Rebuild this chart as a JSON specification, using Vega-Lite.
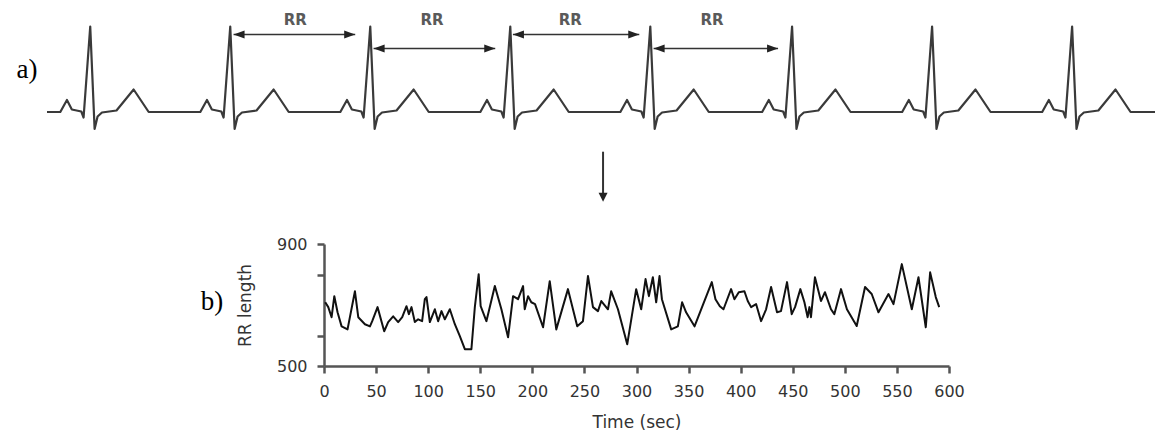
{
  "$schema": "https://vega.github.io/schema/vega-lite/v6.json",
  "padding": 0,
  "background": "white",
  "config": {"view": {"stroke": null}, "concat": {"spacing": 0}},
  "datasets": {
    "ecg": [
      {"t": -247, "v": 0}, {"t": -171, "v": 0}, {"t": -133, "v": 0.24}, {"t": -105, "v": 0.05}, {"t": -51, "v": 0.01}, {"t": -38, "v": -0.11}, {"t": 0, "v": 1.71}, {"t": 25, "v": -0.34}, {"t": 42, "v": -0.09}, {"t": 67, "v": -0.01}, {"t": 150, "v": 0.03}, {"t": 248, "v": 0.45}, {"t": 334, "v": 0},
      {"t": 629, "v": 0}, {"t": 667, "v": 0.24}, {"t": 695, "v": 0.05}, {"t": 749, "v": 0.01}, {"t": 762, "v": -0.11}, {"t": 800, "v": 1.71}, {"t": 825, "v": -0.34}, {"t": 842, "v": -0.09}, {"t": 867, "v": -0.01}, {"t": 950, "v": 0.03}, {"t": 1048, "v": 0.45}, {"t": 1134, "v": 0},
      {"t": 1429, "v": 0}, {"t": 1467, "v": 0.24}, {"t": 1495, "v": 0.05}, {"t": 1549, "v": 0.01}, {"t": 1562, "v": -0.11}, {"t": 1600, "v": 1.71}, {"t": 1625, "v": -0.34}, {"t": 1642, "v": -0.09}, {"t": 1667, "v": -0.01}, {"t": 1750, "v": 0.03}, {"t": 1848, "v": 0.45}, {"t": 1934, "v": 0},
      {"t": 2229, "v": 0}, {"t": 2267, "v": 0.24}, {"t": 2295, "v": 0.05}, {"t": 2349, "v": 0.01}, {"t": 2362, "v": -0.11}, {"t": 2400, "v": 1.71}, {"t": 2425, "v": -0.34}, {"t": 2442, "v": -0.09}, {"t": 2467, "v": -0.01}, {"t": 2550, "v": 0.03}, {"t": 2648, "v": 0.45}, {"t": 2734, "v": 0},
      {"t": 3029, "v": 0}, {"t": 3067, "v": 0.24}, {"t": 3095, "v": 0.05}, {"t": 3149, "v": 0.01}, {"t": 3162, "v": -0.11}, {"t": 3200, "v": 1.71}, {"t": 3225, "v": -0.34}, {"t": 3242, "v": -0.09}, {"t": 3267, "v": -0.01}, {"t": 3350, "v": 0.03}, {"t": 3448, "v": 0.45}, {"t": 3534, "v": 0},
      {"t": 3839, "v": 0}, {"t": 3877, "v": 0.24}, {"t": 3905, "v": 0.05}, {"t": 3959, "v": 0.01}, {"t": 3972, "v": -0.11}, {"t": 4010, "v": 1.71}, {"t": 4035, "v": -0.34}, {"t": 4052, "v": -0.09}, {"t": 4077, "v": -0.01}, {"t": 4160, "v": 0.03}, {"t": 4258, "v": 0.45}, {"t": 4344, "v": 0},
      {"t": 4639, "v": 0}, {"t": 4677, "v": 0.24}, {"t": 4705, "v": 0.05}, {"t": 4759, "v": 0.01}, {"t": 4772, "v": -0.11}, {"t": 4810, "v": 1.71}, {"t": 4835, "v": -0.34}, {"t": 4852, "v": -0.09}, {"t": 4877, "v": -0.01}, {"t": 4960, "v": 0.03}, {"t": 5058, "v": 0.45}, {"t": 5144, "v": 0},
      {"t": 5439, "v": 0}, {"t": 5477, "v": 0.24}, {"t": 5505, "v": 0.05}, {"t": 5559, "v": 0.01}, {"t": 5572, "v": -0.11}, {"t": 5610, "v": 1.71}, {"t": 5635, "v": -0.34}, {"t": 5652, "v": -0.09}, {"t": 5677, "v": -0.01}, {"t": 5760, "v": 0.03}, {"t": 5858, "v": 0.45}, {"t": 5944, "v": 0},
      {"t": 6095, "v": 0}
    ],
    "arrows": [
      {"t1": 819, "t2": 1514, "v": 1.55},
      {"t1": 1619, "t2": 2314, "v": 1.27},
      {"t1": 2415, "t2": 3137, "v": 1.55},
      {"t1": 3219, "t2": 3930, "v": 1.27}
    ],
    "rrlabels": [
      {"t": 1171, "v": 1.84, "label": "RR"},
      {"t": 1953, "v": 1.84, "label": "RR"},
      {"t": 2743, "v": 1.84, "label": "RR"},
      {"t": 3553, "v": 1.84, "label": "RR"}
    ],
    "down": [{"t": 2930, "v1": -0.794, "v2": -1.7, "tip": -1.794}],
    "rr": [
      {"t": 1.2, "rr": 709}, {"t": 4.1, "rr": 693}, {"t": 7.3, "rr": 660}, {"t": 9.9, "rr": 729}, {"t": 13, "rr": 676}, {"t": 16.9, "rr": 630}, {"t": 22.6, "rr": 620}, {"t": 29.7, "rr": 745}, {"t": 32.9, "rr": 660}, {"t": 39.3, "rr": 637},
      {"t": 44.1, "rr": 630}, {"t": 46.3, "rr": 647}, {"t": 51.4, "rr": 693}, {"t": 57.8, "rr": 614}, {"t": 61.6, "rr": 644}, {"t": 66.4, "rr": 663}, {"t": 71.2, "rr": 644}, {"t": 75.1, "rr": 660}, {"t": 79.2, "rr": 696}, {"t": 81.5, "rr": 670},
      {"t": 84, "rr": 693}, {"t": 87.2, "rr": 644}, {"t": 90.4, "rr": 653}, {"t": 94.2, "rr": 647}, {"t": 96.8, "rr": 719}, {"t": 98.4, "rr": 726}, {"t": 101.6, "rr": 644}, {"t": 106.4, "rr": 686}, {"t": 109.6, "rr": 647}, {"t": 112.8, "rr": 680},
      {"t": 116, "rr": 653}, {"t": 120.8, "rr": 686}, {"t": 125.6, "rr": 637}, {"t": 130.4, "rr": 598}, {"t": 135.2, "rr": 555}, {"t": 141.5, "rr": 555}, {"t": 144.8, "rr": 693}, {"t": 148.5, "rr": 801}, {"t": 150.4, "rr": 696}, {"t": 155.9, "rr": 647},
      {"t": 164, "rr": 762}, {"t": 170.3, "rr": 686}, {"t": 176.7, "rr": 594}, {"t": 181.5, "rr": 729}, {"t": 186.3, "rr": 719}, {"t": 191.1, "rr": 762}, {"t": 192.7, "rr": 686}, {"t": 195.9, "rr": 729}, {"t": 199, "rr": 709}, {"t": 202.6, "rr": 703},
      {"t": 210.3, "rr": 627}, {"t": 216.7, "rr": 778}, {"t": 223, "rr": 620}, {"t": 234.2, "rr": 752}, {"t": 243.1, "rr": 630}, {"t": 248.6, "rr": 647}, {"t": 253.4, "rr": 795}, {"t": 258.2, "rr": 693}, {"t": 263, "rr": 680}, {"t": 266.2, "rr": 713},
      {"t": 272.6, "rr": 686}, {"t": 275.7, "rr": 745}, {"t": 282.2, "rr": 686}, {"t": 291.1, "rr": 571}, {"t": 299.7, "rr": 752}, {"t": 304.5, "rr": 686}, {"t": 308.7, "rr": 785}, {"t": 311.9, "rr": 729}, {"t": 315.7, "rr": 791}, {"t": 318.9, "rr": 709},
      {"t": 322.1, "rr": 795}, {"t": 324.4, "rr": 719}, {"t": 333.3, "rr": 620}, {"t": 339.7, "rr": 630}, {"t": 343.8, "rr": 709}, {"t": 347.6, "rr": 676}, {"t": 355.7, "rr": 630}, {"t": 372.3, "rr": 775}, {"t": 375.8, "rr": 719}, {"t": 380, "rr": 696},
      {"t": 383.5, "rr": 686}, {"t": 390.8, "rr": 752}, {"t": 394, "rr": 719}, {"t": 398.2, "rr": 742}, {"t": 403.6, "rr": 745}, {"t": 406.8, "rr": 713}, {"t": 410, "rr": 693}, {"t": 414.8, "rr": 703}, {"t": 419.6, "rr": 647}, {"t": 424.4, "rr": 686},
      {"t": 429.2, "rr": 759}, {"t": 434.9, "rr": 676}, {"t": 438.7, "rr": 680}, {"t": 444.5, "rr": 775}, {"t": 449, "rr": 670}, {"t": 452.2, "rr": 693}, {"t": 457.3, "rr": 752}, {"t": 461.2, "rr": 709}, {"t": 464.3, "rr": 660}, {"t": 466, "rr": 693},
      {"t": 467.5, "rr": 660}, {"t": 471.3, "rr": 791}, {"t": 477.1, "rr": 713}, {"t": 480.9, "rr": 742}, {"t": 486.7, "rr": 686}, {"t": 489.9, "rr": 670}, {"t": 496.3, "rr": 752}, {"t": 502, "rr": 686}, {"t": 511.4, "rr": 631}, {"t": 519.4, "rr": 759},
      {"t": 525.8, "rr": 736}, {"t": 532.3, "rr": 676}, {"t": 541.9, "rr": 736}, {"t": 546.7, "rr": 703}, {"t": 554.7, "rr": 834}, {"t": 564.3, "rr": 686}, {"t": 570.7, "rr": 791}, {"t": 577.7, "rr": 627}, {"t": 581.9, "rr": 807}, {"t": 587.3, "rr": 726},
      {"t": 590.6, "rr": 693}
    ]
  },
  "spacing": 26,
  "vconcat": [
    {
      "spacing": 0,
      "hconcat": [
        {
          "width": 45,
          "height": 140,
          "data": {"values": [{"label": "a)"}]},
          "mark": {"type": "text", "font": "Liberation Serif", "fontSize": 27, "dx": 4.5, "align": "center", "baseline": "middle", "color": "#000000"},
          "encoding": {"text": {"field": "label"}}
        },
        {
          "width": 1110,
          "height": 210,
          "layer": [
            {
              "data": {"name": "ecg"},
              "mark": {"type": "line", "color": "#3a3a3a", "strokeWidth": 2.2, "strokeJoin": "round"},
              "encoding": {
                "x": {"field": "t", "type": "quantitative", "scale": {"domain": [-247, 6095], "nice": false, "zero": false}, "axis": null},
                "y": {"field": "v", "type": "quantitative", "scale": {"domain": [-1.96, 2.24], "nice": false, "zero": false}, "axis": null}
              }
            },
            {
              "data": {"name": "arrows"},
              "mark": {"type": "rule", "color": "#333333", "strokeWidth": 1.6},
              "encoding": {
                "x": {"field": "t1", "type": "quantitative", "scale": {"domain": [-247, 6095], "nice": false, "zero": false}, "axis": null},
                "x2": {"field": "t2"},
                "y": {"field": "v", "type": "quantitative", "scale": {"domain": [-1.96, 2.24], "nice": false, "zero": false}, "axis": null}
              }
            },
            {
              "data": {"name": "arrows"},
              "mark": {"type": "point", "shape": "M0,0L2,-0.73L2,0.73Z", "size": 121, "filled": true, "opacity": 1, "color": "#222222", "strokeWidth": 0},
              "encoding": {
                "x": {"field": "t1", "type": "quantitative", "scale": {"domain": [-247, 6095], "nice": false, "zero": false}, "axis": null},
                "y": {"field": "v", "type": "quantitative", "scale": {"domain": [-1.96, 2.24], "nice": false, "zero": false}, "axis": null}
              }
            },
            {
              "data": {"name": "arrows"},
              "mark": {"type": "point", "shape": "M0,0L-2,-0.73L-2,0.73Z", "size": 121, "filled": true, "opacity": 1, "color": "#222222", "strokeWidth": 0},
              "encoding": {
                "x": {"field": "t2", "type": "quantitative", "scale": {"domain": [-247, 6095], "nice": false, "zero": false}, "axis": null},
                "y": {"field": "v", "type": "quantitative", "scale": {"domain": [-1.96, 2.24], "nice": false, "zero": false}, "axis": null}
              }
            },
            {
              "data": {"name": "rrlabels"},
              "mark": {"type": "text", "font": "DejaVu Sans", "fontSize": 15, "fontWeight": "bold", "color": "#5a5a5a", "baseline": "middle", "align": "center"},
              "encoding": {
                "x": {"field": "t", "type": "quantitative", "scale": {"domain": [-247, 6095], "nice": false, "zero": false}, "axis": null},
                "y": {"field": "v", "type": "quantitative", "scale": {"domain": [-1.96, 2.24], "nice": false, "zero": false}, "axis": null},
                "text": {"field": "label"}
              }
            },
            {
              "data": {"name": "down"},
              "mark": {"type": "rule", "color": "#333333", "strokeWidth": 2},
              "encoding": {
                "x": {"field": "t", "type": "quantitative", "scale": {"domain": [-247, 6095], "nice": false, "zero": false}, "axis": null},
                "y": {"field": "v1", "type": "quantitative", "scale": {"domain": [-1.96, 2.24], "nice": false, "zero": false}, "axis": null},
                "y2": {"field": "v2"}
              }
            },
            {
              "data": {"name": "down"},
              "mark": {"type": "point", "shape": "M0,0L-1,-2L1,-2Z", "size": 81, "filled": true, "opacity": 1, "color": "#222222", "strokeWidth": 0},
              "encoding": {
                "x": {"field": "t", "type": "quantitative", "scale": {"domain": [-247, 6095], "nice": false, "zero": false}, "axis": null},
                "y": {"field": "tip", "type": "quantitative", "scale": {"domain": [-1.96, 2.24], "nice": false, "zero": false}, "axis": null}
              }
            }
          ]
        }
      ]
    },
    {
      "spacing": 0,
      "hconcat": [
        {
          "width": 236,
          "height": 122,
          "data": {"values": [{"label": "b)"}]},
          "mark": {"type": "text", "font": "Liberation Serif", "fontSize": 27, "dx": 94, "dy": -3, "align": "center", "baseline": "middle", "color": "#000000"},
          "encoding": {"text": {"field": "label"}}
        },
        {
          "width": 625,
          "height": 122,
          "data": {"name": "rr"},
          "mark": {"type": "line", "color": "#111111", "strokeWidth": 2, "strokeJoin": "round"},
          "encoding": {
            "x": {
              "field": "t", "type": "quantitative",
              "scale": {"domain": [0, 600], "nice": false, "zero": false},
              "axis": {
                "title": "Time (sec)", "values": [0, 50, 100, 150, 200, 250, 300, 350, 400, 450, 500, 550, 600],
                "grid": false, "labelFlush": false, "labelOverlap": false,
                "domainColor": "#555555", "domainWidth": 2.5, "tickColor": "#555555", "tickWidth": 2.5, "tickSize": 7,
                "labelFont": "DejaVu Sans", "labelFontSize": 16, "labelColor": "#333333", "labelPadding": 10,
                "titleFont": "DejaVu Sans", "titleFontSize": 17, "titleFontWeight": "normal", "titleColor": "#333333", "titlePadding": 15
              }
            },
            "y": {
              "field": "rr", "type": "quantitative",
              "scale": {"domain": [500, 900], "nice": false, "zero": false},
              "axis": {
                "title": "RR length", "values": [500, 600, 800, 900],
                "labelExpr": "datum.value == 500 || datum.value == 900 ? datum.label : ''",
                "grid": false, "labelFlush": false, "labelOverlap": false,
                "domainColor": "#555555", "domainWidth": 2.5, "tickColor": "#555555", "tickWidth": 2.5, "tickSize": 7,
                "labelFont": "DejaVu Sans", "labelFontSize": 16, "labelColor": "#333333", "labelPadding": 10,
                "titleFont": "DejaVu Sans", "titleFontSize": 17, "titleFontWeight": "normal", "titleColor": "#333333", "titlePadding": 22
              }
            }
          }
        }
      ]
    }
  ]
}
